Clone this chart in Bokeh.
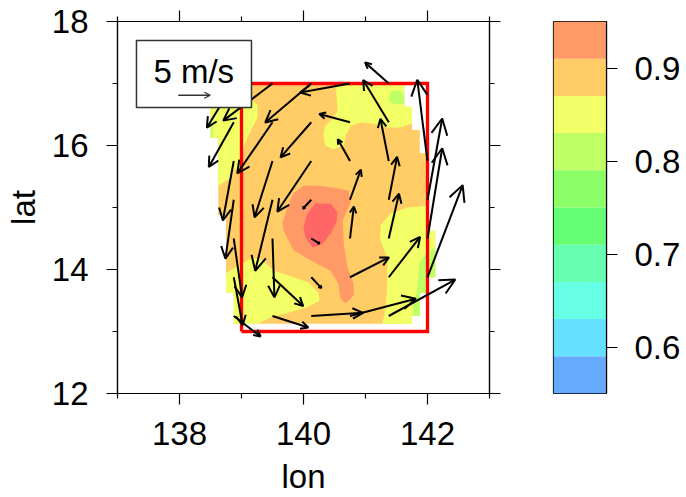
from bokeh.plotting import figure
from bokeh.layouts import row
from bokeh.models import Arrow, OpenHead, FixedTicker, LinearAxis, Range1d
from bokeh.core.properties import value
from bokeh.embed import file_html
from bokeh.resources import INLINE
import math

FONT = "Liberation Sans"

level_edges = [0.55, 0.59, 0.63, 0.67, 0.71, 0.75, 0.79, 0.83, 0.87, 0.91, 0.95]
level_colors = ["#66AAFF", "#66E0FF", "#66FFE5", "#66FFB2", "#66FF73",
                "#8CFF66", "#BFFF66", "#F2FF66", "#FFCC66", "#FF9966"]
peak_color = "#FF6666"

# filled contour regions (lon, lat)
base_lon = [138.5,138.5,138.625,138.625,138.75,138.75,138.875,138.875,141.75,141.75,141.875,141.875,142,142,142.125,142.125,142,142,141.875,141.875,141.75,141.75,141.625,141.625,139.16]
base_lat = [16.73,16.125,16.125,14.875,14.875,13.625,13.625,13.125,13.125,13.25,13.25,13.625,13.625,13.875,13.875,14.625,14.625,15.875,15.875,16.25,16.25,16.625,16.625,17,17]

y1_lon = [138.5,139.16,139.26,139.26,139.11,139.03,138.95,138.87,138.82,138.625,138.625,138.5]
y1_lat = [16.73,16.74,16.65,16.45,16.16,15.97,15.65,15.6,15.47,15.35,16.125,16.125]
y2_lon = [140.53,140.53,140.55,140.48,140.35,140.32,140.35,140.48,140.65,140.68,140.76,140.92,141.13,141.35,141.56,141.75,141.75,141.625,141.625]
y2_lat = [17,16.84,16.56,16.44,16.32,16.16,16.0,15.94,16.0,16.16,16.32,16.37,16.35,16.29,16.29,16.35,16.625,16.625,17]
y3_lon = [138.75,139.03,139.19,139.34,139.52,139.79,140.08,140.24,140.26,140.06,139.79,139.5,139.26,138.875,138.875,138.75]
y3_lat = [13.94,14.11,14.19,14.15,13.98,13.89,13.79,13.63,13.5,13.39,13.31,13.24,13.125,13.125,13.625,13.625]
y4_lon = [142,141.68,141.4,141.24,141.24,141.35,141.35,141.32,141.27,141.75,141.75,141.875,141.875,142,142,142.125,142.125,142]
y4_lat = [15.03,15.0,14.9,14.71,14.47,14.19,13.71,13.34,13.125,13.125,13.25,13.25,13.625,13.625,13.875,13.875,14.625,14.625]

g1_lon = [141.37,141.42,141.52,141.61,141.625,141.625,141.5,141.4]
g1_lat = [16.77,16.87,16.89,16.85,16.77,16.68,16.66,16.69]
g2_lon = [142.125,142.05,141.94,141.87,141.84,141.82,141.77,141.77,141.875,141.875,142,142,142.125]
g2_lat = [14.34,14.32,14.21,14.1,13.77,13.6,13.47,13.25,13.25,13.625,13.625,13.875,13.875]
g3_lon = [138.5,138.54,138.54,138.5]
g3_lat = [16.4,16.35,16.125,16.125]

o1_lon = [140,140.24,140.55,140.73,140.76,140.63,140.65,140.71,140.81,140.81,140.68,140.6,140.56,140.44,140.11,139.84,139.68,139.66,139.76,139.84]
o1_lat = [15.35,15.35,15.31,15.27,15.08,14.79,14.42,14.03,13.77,13.58,13.45,13.53,13.77,13.98,14.15,14.31,14.63,14.74,15.06,15.23]
r1_lon = [140.19,140.44,140.55,140.53,140.44,140.31,140.15,140.03,140.0,140.06]
r1_lat = [15.06,15.06,14.92,14.76,14.58,14.42,14.35,14.52,14.68,14.9]

# box of the study area
box_lon = [139, 142, 142, 139, 139]
box_lat = [13, 13, 17, 17, 13]

# wind vectors: position (deg) and components (m/s)
wind_lon = [138.875,139.5,140.125,140.75,141.375,
            138.875,139.5,140.125,140.75,141.375,
            138.875,139.5,140.125,140.75,141.375,142,
            138.875,139.5,140.125,140.75,141.375,142,
            138.875,139.5,140.125,140.75,141.375,142,
            138.875,139.5,140.125,140.75,141.375,142,
            138.875,139.5,140.125,140.75,141.375]
wind_lat = [17,17,17,17,17,
            16.375,16.375,16.375,16.375,16.375,
            15.75,15.75,15.75,15.75,15.75,15.75,
            15.125,15.125,15.125,15.125,15.125,15.125,
            14.5,14.5,14.5,14.5,14.5,14.5,
            13.875,13.875,13.875,13.875,13.875,13.875,
            13.25,13.25,13.25,13.25,13.25]
wind_u = [-4.2,-7.7,-7.2,-7.8,-3.7,
          -3.9,-5.5,-4.8,-4.8,-4.0,
          -1.7,-2.8,-5.3,-1.9,-1.3,-1.6,
          -1.3,-2.7,-1.3,1.7,1.3,2.3,
          1.3,0.3,1.3,0.6,1.6,2.3,
          1.4,4.8,1.6,6.1,4.9,5.5,
          4.2,5.6,8.1,10.3,10.4]
wind_v = [-6.9,-5.8,-6.1,-1.4,3.3,
          -7.0,-8.0,-5.5,1.3,6.6,
          -9.3,-8.8,-7.9,3.4,6.6,12.7,
          -9.2,-11.1,-1.4,4.7,6.7,12.7,
          -9.2,-9.2,-0.8,5.0,7.0,14.1,
          -7.5,-4.5,-1.7,3.1,6.3,14.4,
          -3.2,-1.8,0.5,2.7,5.7]
ref_speed = 5
deg_per_ms = 0.1032

p = figure(width=528, height=497, output_backend="svg", toolbar_location=None,
           x_range=Range1d(137, 143), y_range=Range1d(12, 18),
           min_border_left=117, min_border_right=39, min_border_top=21, min_border_bottom=104,
           x_axis_label="lon", y_axis_label="lat")
p.grid.visible = False
p.outline_line_color = "black"
p.outline_line_width = 1.2

x_major = [138, 140, 142]
y_major = [12, 14, 16, 18]
x_tick = FixedTicker(ticks=x_major, minor_ticks=[137, 139, 141, 143])
y_tick = FixedTicker(ticks=y_major, minor_ticks=[13, 15, 17])
p.add_layout(LinearAxis(major_label_overrides={t: "" for t in x_major}), "above")
p.add_layout(LinearAxis(major_label_overrides={t: "" for t in y_major}), "right")
for ax in p.xaxis:
    ax.ticker = x_tick
for ax in p.yaxis:
    ax.ticker = y_tick
for ax in p.xaxis + p.yaxis:
    ax.axis_line_color = "black"
    ax.axis_line_width = 1.2
    ax.major_tick_line_width = 1.2
    ax.minor_tick_line_width = 1.2
    ax.major_tick_line_color = "black"
    ax.minor_tick_line_color = "black"
    ax.major_tick_out = 11
    ax.major_tick_in = 0
    ax.minor_tick_out = 5
    ax.minor_tick_in = 0
    ax.major_label_text_font_size = "33px"
for ax in [p.below[0], p.left[0]]:
    ax.major_label_text_font = FONT
    ax.major_label_text_color = "black"
    ax.axis_label_text_font = FONT
    ax.axis_label_text_font_size = "33px"
    ax.axis_label_text_font_style = "normal"
    ax.axis_label_text_color = "black"
p.below[0].major_label_standoff = 17
p.left[0].major_label_standoff = 18
p.below[0].axis_label_standoff = 10
p.left[0].axis_label_standoff = 7

fills = [(base_lon, base_lat, level_colors[8]),
         (y1_lon, y1_lat, level_colors[7]), (y2_lon, y2_lat, level_colors[7]),
         (y3_lon, y3_lat, level_colors[7]), (y4_lon, y4_lat, level_colors[7]),
         (g1_lon, g1_lat, level_colors[6]), (g2_lon, g2_lat, level_colors[6]),
         (g3_lon, g3_lat, level_colors[6]),
         (o1_lon, o1_lat, level_colors[9]), (r1_lon, r1_lat, peak_color)]
for xs, ys, c in fills:
    p.patch(xs, ys, fill_color=c, line_color=None)

p.line(box_lon, box_lat, line_color="#FF0000", line_width=3.3, line_join="miter")

for lon, lat, u, v in zip(wind_lon, wind_lat, wind_u, wind_v):
    length_px = math.hypot(u, v) * deg_per_ms * 62
    head = OpenHead(size=min(16, 0.2 * length_px), line_width=2, line_color="black")
    p.add_layout(Arrow(end=head, x_start=lon, y_start=lat,
                       x_end=lon + u * deg_per_ms, y_end=lat + v * deg_per_ms,
                       line_width=2, line_color="black"))

# reference vector key
p.quad(left=[137.306], right=[139.161], bottom=[16.613], top=[17.694], fill_color="white",
       line_color="#333333", line_width=1.5, level="overlay")
p.text(x=[138.23], y=[17.19], text=[f"{ref_speed} m/s"], text_font=value(FONT), text_font_size="33px",
       text_align="center", text_baseline="middle", text_color="black", level="overlay")
p.add_layout(Arrow(end=OpenHead(size=6, line_width=1.3, line_color="#333333"),
                   x_start=137.98, y_start=16.81, x_end=137.98 + ref_speed * deg_per_ms, y_end=16.81,
                   line_width=1.4, line_color="#333333", level="overlay"))

c = figure(width=158, height=497, output_backend="svg", toolbar_location=None,
           x_range=Range1d(0, 1), y_range=Range1d(0.55, 0.95),
           min_border_left=25, min_border_right=80, min_border_top=21, min_border_bottom=104,
           x_axis_location=None, y_axis_location="right")
c.grid.visible = False
c.outline_line_color = "black"
c.outline_line_width = 1.2
c.quad(left=[0] * 10, right=[1] * 10, bottom=level_edges[:-1], top=level_edges[1:],
       fill_color=level_colors, line_color=None)
ya = c.yaxis[0]
ya.ticker = FixedTicker(ticks=[0.6, 0.7, 0.8, 0.9])
ya.major_tick_out = 11
ya.major_tick_in = 0
ya.minor_tick_out = 0
ya.minor_tick_in = 0
ya.major_tick_line_width = 1.2
ya.major_tick_line_color = "black"
ya.axis_line_color = "black"
ya.axis_line_width = 1.2
ya.major_label_text_font = FONT
ya.major_label_text_font_size = "33px"
ya.major_label_text_color = "black"
ya.major_label_standoff = 17

page = row(p, c, spacing=0)
open("out.html", "w").write(file_html(page, INLINE))
